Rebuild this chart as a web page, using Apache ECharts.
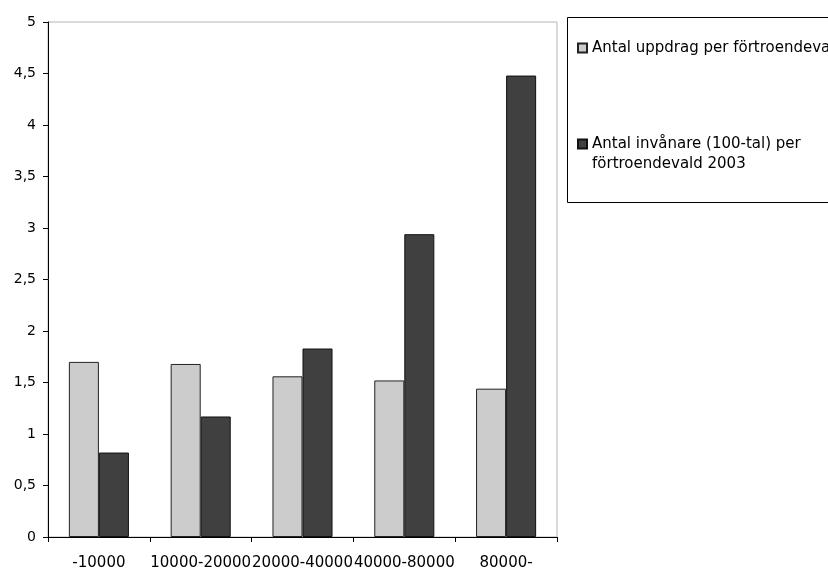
<!DOCTYPE html>
<html>
<head>
<meta charset="utf-8">
<script src="https://cdn.jsdelivr.net/npm/echarts@6/dist/echarts.min.js"></script>
<style>
  html, body { margin: 0; padding: 0; background: #fff; }
  #chart { width: 828px; height: 570px; }
</style>
</head>
<body>
<div id="chart"></div>
<script>
// Municipality size classes (inhabitants)
const categories = ['-10000', '10000-20000', '20000-40000', '40000-80000', '80000-'];

// Series names
const nameAssignments = 'Antal uppdrag per förtroendevald';
const nameInhabitants = 'Antal invånare (100-tal) per förtroendevald 2003';

// Values per size class
const assignmentsPerRep = [1.70, 1.68, 1.56, 1.52, 1.44];
const inhabitantsPerRep = [0.82, 1.17, 1.83, 2.94, 4.48];

// Value axis ticks
const yMin = 0;
const yMax = 5;
const yStep = 0.5;

const FONT = 'DejaVu Sans';

const chart = echarts.init(document.getElementById('chart'), null, { renderer: 'canvas' });

chart.setOption({
  animation: false,
  backgroundColor: '#ffffff',
  grid: {
    left: 48, right: 271, top: 22, bottom: 33,
    outerBoundsMode: 'none',
    containLabel: false,
    show: true, borderColor: '#b4b4b4', borderWidth: 1, backgroundColor: 'transparent'
  },
  legend: [
    {
      data: [nameAssignments],
      orient: 'vertical',
      left: 577, top: 39, padding: 0,
      itemWidth: 9, itemHeight: 9,
      icon: 'rect',
      textStyle: { fontFamily: FONT, fontSize: 15, color: '#000', lineHeight: 18 }
    },
    {
      data: [nameInhabitants],
      orient: 'vertical',
      left: 577, top: 114, padding: 0,
      itemWidth: 9, itemHeight: 9,
      icon: 'rect',
      // leading blank line keeps the first text line level with the swatch
      formatter: () => '\nAntal invånare (100-tal) per\nförtroendevald 2003',
      textStyle: { fontFamily: FONT, fontSize: 15, color: '#000', lineHeight: 20 }
    }
  ],
  graphic: [
    {
      type: 'rect',
      shape: { x: 567.5, y: 17.5, width: 320, height: 185 },
      style: { fill: 'none', stroke: '#000', lineWidth: 1 },
      z: -1
    }
  ],
  xAxis: {
    type: 'category',
    data: categories,
    boundaryGap: true,
    axisLine: { show: true, lineStyle: { color: '#000', width: 1 } },
    axisTick: { show: true, length: 5, lineStyle: { color: '#000' } },
    axisLabel: {
      interval: 0, margin: 19, hideOverlap: false,
      fontFamily: FONT, fontSize: 15, color: '#000'
    },
    splitLine: { show: false }
  },
  yAxis: {
    type: 'value',
    min: yMin, max: yMax, interval: yStep,
    axisLine: { show: true, lineStyle: { color: '#000', width: 1 } },
    axisTick: { show: true, length: 5, lineStyle: { color: '#000' } },
    axisLabel: {
      margin: 12, fontFamily: FONT, fontSize: 14, color: '#000',
      formatter: v => String(v).replace('.', ',')
    },
    splitLine: { show: false }
  },
  series: [
    {
      name: nameAssignments,
      type: 'bar',
      data: assignmentsPerRep,
      barGap: '0%',
      barCategoryGap: '41%',
      itemStyle: { color: '#cccccc', borderColor: '#222', borderWidth: 1 }
    },
    {
      name: nameInhabitants,
      type: 'bar',
      data: inhabitantsPerRep,
      itemStyle: { color: '#404040', borderColor: '#111', borderWidth: 1 }
    }
  ]
});
</script>
</body>
</html>
